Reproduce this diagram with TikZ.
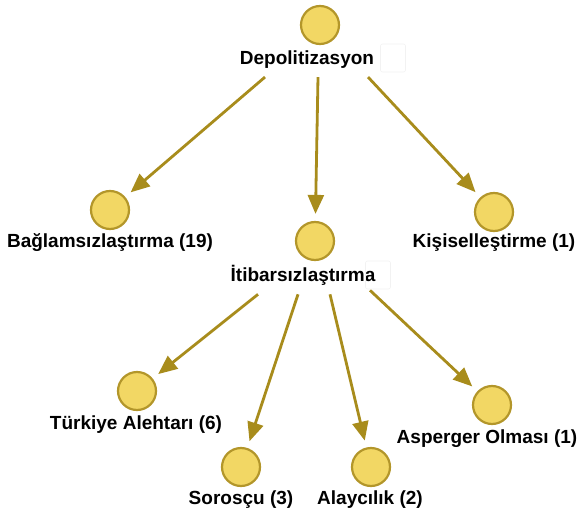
\documentclass[tikz,border=0pt]{standalone}
\usepackage{fontspec}
\setmainfont{Liberation Sans}
\usepackage{tikz}
\usetikzlibrary{arrows.meta,positioning,calc}

\definecolor{dotfill}{HTML}{F2D764}
\definecolor{dotline}{HTML}{B3962A}
\definecolor{arrowcol}{HTML}{A88C1C}

\tikzset{
  dot/.style={circle,draw=dotline,fill=dotfill,line width=2.2pt,minimum size=38pt,inner sep=0pt},
  lab/.style={font=\bfseries\fontsize{19}{21}\selectfont,inner sep=1pt},
  ghost/.style={draw=black!5,rounded corners=2pt,minimum width=25pt,minimum height=28pt,line width=0.6pt},
  link/.style={draw=arrowcol,line width=2.8pt,-{Triangle[length=19pt,width=16pt]},shorten >=7pt}
}

\begin{document}
\begin{tikzpicture}[x=1pt,y=-1pt]
	\useasboundingbox (0,0) rectangle (578,516);
	% top
	\node[dot] (depdot) at (320,25) {};
	\node[lab] (dep) at (307,60) {Depolitizasyon};
	\node[ghost] at (393,58) {};
	% second row
	\node[dot] (bagdot) at (110,210) {};
	\node[lab] (bag) at (110,243) {Bağlamsızlaştırma (19)};
	\node[dot] (kisdot) at (494,212) {};
	\node[lab] (kis) at (494,243) {Kişiselleştirme (1)};
	\node[dot] (itbdot) at (315,241) {};
	\node[lab] (itb) at (303,275) {İtibarsızlaştırma};
	\node[ghost] at (378,275) {};
	% third row
	\node[dot] (turdot) at (137,391) {};
	\node[lab] (tur) at (136,425) {Türkiye Alehtarı (6)};
	\node[dot] (sordot) at (241,467) {};
	\node[lab] (sor) at (241,500) {Sorosçu (3)};
	\node[dot] (alydot) at (371,467) {};
	\node[lab] (aly) at (370,500) {Alaycılık (2)};
	\node[dot] (aspdot) at (492,405) {};
	\node[lab] (asp) at (487,439) {Asperger Olması (1)};
	% connectors
	\draw[link] ($(dep.south)+(-42,7)$) -- (bagdot);
	\draw[link] ($(dep.south)+(11,7)$) -- (itbdot);
	\draw[link] ($(dep.south)+(61,7)$) -- (kisdot);
	\draw[link] ($(itb.south)+(-45,8)$) -- (turdot);
	\draw[link] ($(itb.south)+(-5,8)$) -- (sordot);
	\draw[link] ($(itb.south)+(27,8)$) -- (alydot);
	\draw[link] ($(itb.south)+(67,4)$) -- (aspdot);
\end{tikzpicture}
\end{document}
